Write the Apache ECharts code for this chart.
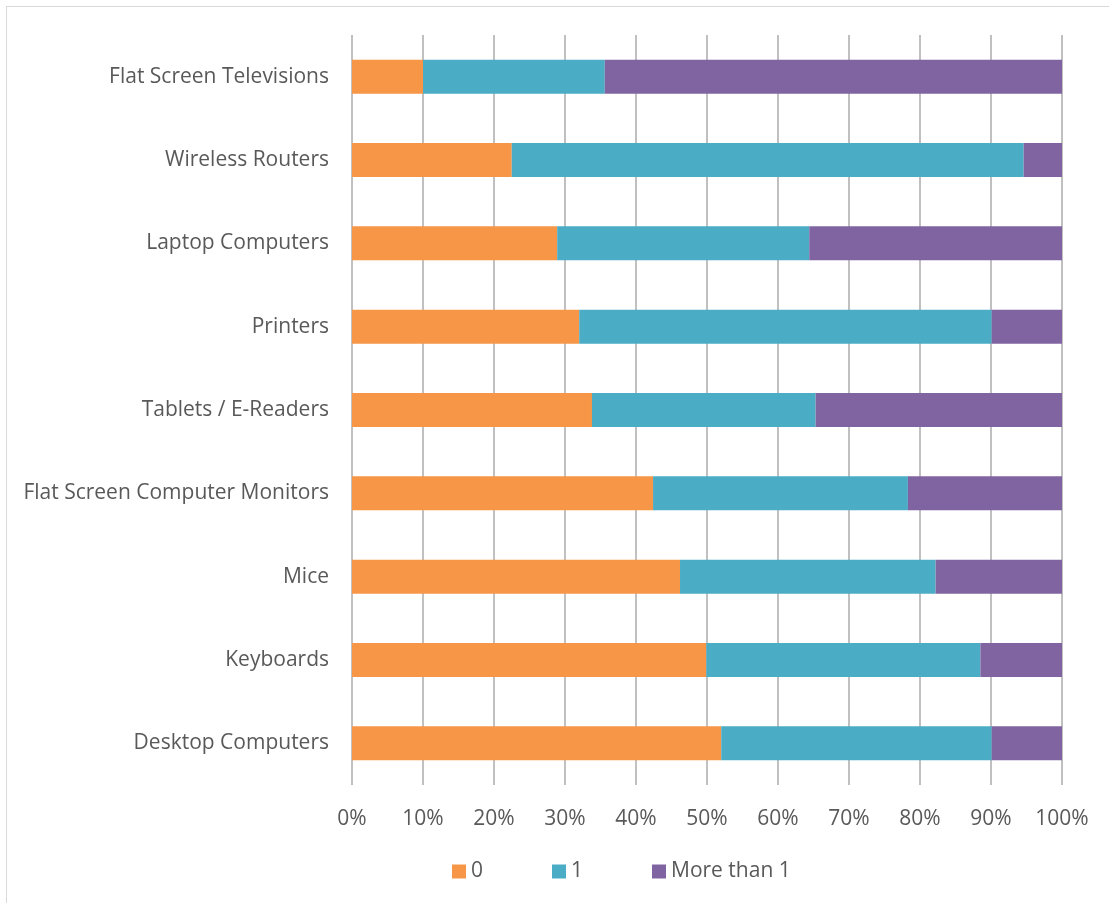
<!DOCTYPE html>
<html>
<head>
<meta charset="utf-8">
<script src="https://cdn.jsdelivr.net/npm/echarts@6/dist/echarts.min.js"></script>
<style>
  html, body { margin: 0; padding: 0; background: #ffffff; overflow: hidden; }
  #frame { position: absolute; left: 6px; top: 6px; width: 1120px; height: 920px; border: 1px solid #d9d9d9; box-sizing: border-box; }
  #chart { position: absolute; left: 0; top: 0; width: 1109px; height: 903px; }
</style>
</head>
<body>
<div id="frame"></div>
<div id="chart"></div>
<script>
// Device categories, bottom to top
const categories = [
  'Desktop Computers',
  'Keyboards',
  'Mice',
  'Flat Screen Computer Monitors',
  'Tablets / E-Readers',
  'Printers',
  'Laptop Computers',
  'Wireless Routers',
  'Flat Screen Televisions'
];

// Share of respondents (%) owning 0, 1, or more than 1 of each device
const seriesNames = ['0', '1', 'More than 1'];
const noneValues = [52.0, 49.9, 46.2, 42.4, 33.8, 32.0, 28.9, 22.5, 10.0];
const oneValues  = [38.1, 38.6, 36.0, 35.9, 31.5, 58.1, 35.5, 72.1, 25.6];
const moreValues = [9.9, 11.5, 17.8, 21.7, 34.7, 9.9, 35.6, 5.4, 64.4];

const tickValues = [0, 10, 20, 30, 40, 50, 60, 70, 80, 90, 100];

const colors = ['#F79646', '#4BACC6', '#8064A2'];
const font = '"Open Sans", Lato, sans-serif';

const chart = echarts.init(document.getElementById('chart'), null, { renderer: 'canvas' });

const makeSeries = (name, data, color) => ({
  name: name,
  type: 'bar',
  stack: 'total',
  data: data,
  barWidth: 34,
  itemStyle: { color: color },
  emphasis: { disabled: true }
});

chart.setOption({
  animation: false,
  color: colors,
  grid: { left: 352, right: 47, top: 35, bottom: 118, containLabel: false },
  xAxis: {
    type: 'value',
    min: tickValues[0],
    max: tickValues[tickValues.length - 1],
    interval: 10,
    axisLine: { show: false },
    axisTick: { show: false },
    splitLine: { show: true, lineStyle: { color: '#c0c0c0', width: 2 } },
    axisLabel: {
      formatter: v => v + '%',
      color: '#595959',
      fontFamily: font,
      fontSize: 21,
      margin: 24
    }
  },
  yAxis: {
    type: 'category',
    data: categories,
    axisLine: { show: false },
    axisTick: { show: false },
    axisLabel: {
      color: '#595959',
      fontFamily: font,
      fontSize: 21,
      margin: 23,
      padding: [3, 0, 0, 0]
    }
  },
  legend: {
    data: seriesNames,
    top: 861,
    left: 452,
    padding: 0,
    itemWidth: 14,
    itemHeight: 14,
    itemGap: 69,
    icon: 'rect',
    textStyle: { color: '#595959', fontFamily: font, fontSize: 21 }
  },
  series: [
    makeSeries(seriesNames[0], noneValues, colors[0]),
    makeSeries(seriesNames[1], oneValues, colors[1]),
    makeSeries(seriesNames[2], moreValues, colors[2])
  ]
});
</script>
</body>
</html>
